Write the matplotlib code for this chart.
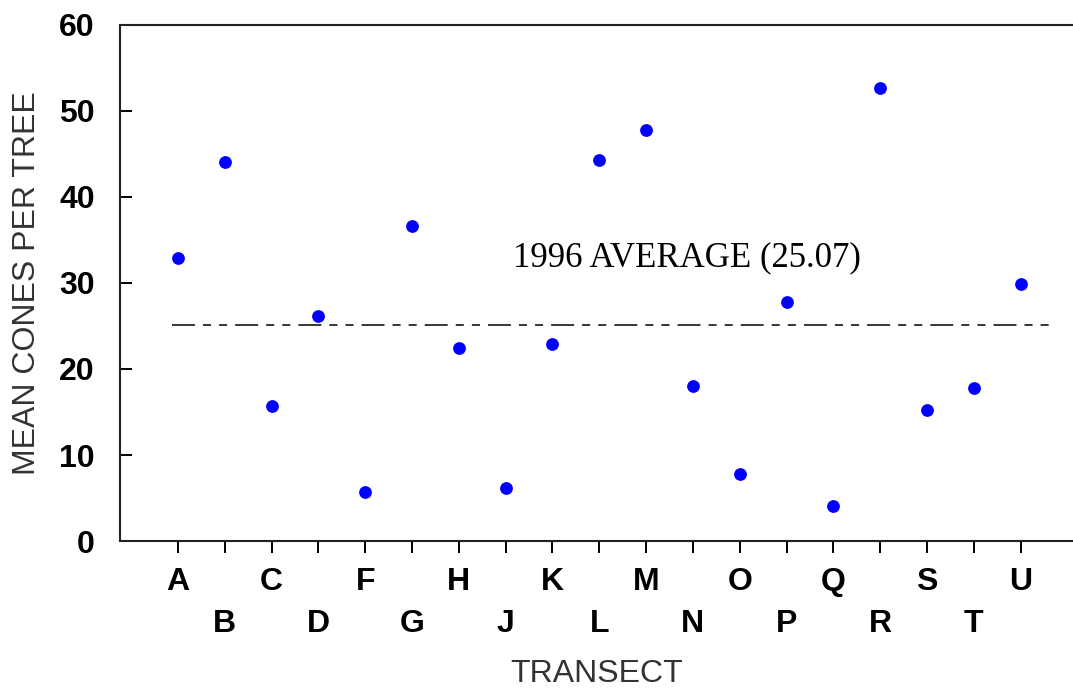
import matplotlib
matplotlib.use('Agg')
from matplotlib import pyplot as plt

transects = ['A', 'B', 'C', 'D', 'F', 'G', 'H', 'J', 'K', 'L',
             'M', 'N', 'O', 'P', 'Q', 'R', 'S', 'T', 'U']
mean_cones = [32.9, 44.1, 15.7, 26.2, 5.7, 36.6, 22.4, 6.2, 22.9, 44.3,
              47.8, 18.0, 7.8, 27.8, 4.1, 52.7, 15.2, 17.8, 29.9]
average_1996 = 25.07
yticks = [0, 10, 20, 30, 40, 50, 60]

plt.rcParams['lines.scale_dashes'] = False

fig = plt.figure(figsize=(10.73, 6.92), dpi=100)
ax = fig.add_axes([0.1118, 0.2182, 0.8882, 0.7457])

x = list(range(len(transects)))
ax.plot(x, mean_cones, 'o', color='#0000ff', markersize=9.2, markeredgewidth=0)

# average line, long-short-short dashes
ax.axhline(average_1996, xmin=0.0546, xmax=0.981, color='black', linewidth=1.1,
           linestyle=(0, (16.5, 5.8, 5.8, 5.8, 5.8, 5.8)))
ax.text(7.16, 32.9, '1996 AVERAGE (%.2f)' % average_1996, ha='left', va='center',
        fontsize=25, family='Liberation Serif')

ax.set_xlim(-1.24, 19.12)
ax.set_ylim(0, 60)

# alternate rows for the letters
ax.set_xticks(x[0::2], transects[0::2])
ax.set_xticks(x[1::2], transects[1::2], minor=True)
ax.tick_params(axis='x', which='both', direction='out', length=8.6, width=1.4)
ax.tick_params(axis='x', which='major', pad=10)
ax.tick_params(axis='x', which='minor', pad=40)
for lab in ax.get_xticklabels(which='both'):
    lab.set_fontsize(23)
    lab.set_fontweight('bold')
    lab.set_family('Liberation Sans')

ax.set_yticks(yticks)
ax.tick_params(axis='y', direction='in', length=8.6, width=1.4, pad=18)
for lab in ax.get_yticklabels():
    lab.set_fontsize(23)
    lab.set_fontweight('bold')
    lab.set_family('Liberation Sans')

ax.spines['right'].set_visible(False)
for s in ['left', 'top', 'bottom']:
    ax.spines[s].set_linewidth(1.5)
    ax.spines[s].set_color('#222222')

ax.set_xlabel('TRANSECT', fontsize=23, family='Liberation Sans', color='#333333')
ax.set_ylabel('MEAN CONES PER TREE', fontsize=23, family='Liberation Sans', color='#333333')
ax.yaxis.set_label_coords(-0.082, 0.5)
ax.xaxis.set_label_coords(0.5, -0.228)

fig.savefig('out.png', dpi=100)
